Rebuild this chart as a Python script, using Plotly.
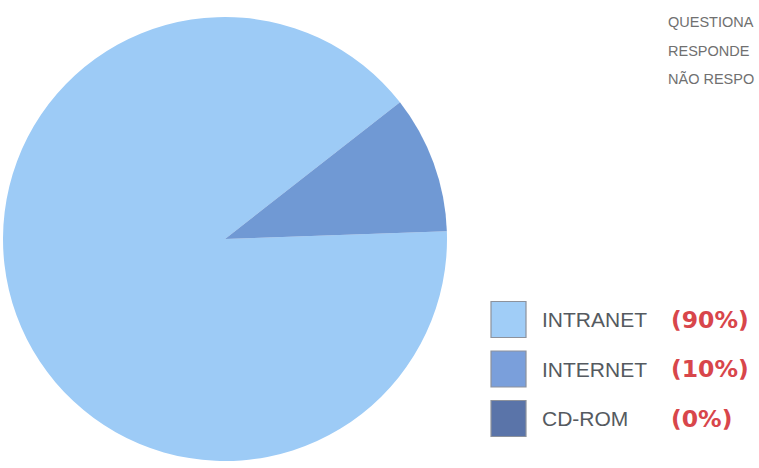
import plotly.graph_objects as go

# ---- data ----
categories = ["INTRANET", "INTERNET", "CD-ROM"]
shares = [90, 10, 0]
pct_labels = ["(90%)", "(10%)", "(0%)"]
slice_colors = ["#9dcbf6", "#7099d4", "#5a74a9"]
legend_colors = ["#a0cdf7", "#7a9fdb", "#5a74a9"]
header_lines = ["QUESTIONA", "RESPONDE", "NÃO RESPO"]

W, H = 759, 468

def px(x):
    return x / W

def py(y):
    return 1 - y / H

# pie geometry (pixels)
cx, cy, diam = 225, 239, 444

fig = go.Figure()
fig.add_trace(go.Pie(
    labels=categories,
    values=shares,
    sort=False,
    direction="clockwise",
    rotation=88,
    marker=dict(colors=slice_colors, line=dict(width=0)),
    textinfo="none",
    hoverinfo="label+percent",
    showlegend=False,
    domain=dict(x=[px(cx - diam / 2), px(cx + diam / 2)],
                y=[py(cy + diam / 2), py(cy - diam / 2)]),
))

annotations = []
shapes = []

# header text (top right)
for i, t in enumerate(header_lines):
    annotations.append(dict(
        x=px(666), y=py(22 + i * 28.5), xref="paper", yref="paper",
        xanchor="left", yanchor="middle", showarrow=False, text=t,
        font=dict(family="Liberation Sans, Arial, sans-serif", size=14.5, color="#707070"),
    ))

# custom legend
row0, step = 319.5, 49.5
for i, (lab, col, pct) in enumerate(zip(categories, legend_colors, pct_labels)):
    yc = row0 + i * step
    shapes.append(dict(
        type="rect", xref="paper", yref="paper",
        x0=px(491), x1=px(526), y0=py(yc + 18), y1=py(yc - 18),
        fillcolor=col, line=dict(color="#8d929c", width=1.2),
    ))
    annotations.append(dict(
        x=px(540), y=py(yc), xref="paper", yref="paper",
        xanchor="left", yanchor="middle", showarrow=False, text=lab,
        font=dict(family="Liberation Sans, Arial, sans-serif", size=21, color="#555a60"),
    ))
    annotations.append(dict(
        x=px(669), y=py(yc), xref="paper", yref="paper",
        xanchor="left", yanchor="middle", showarrow=False, text="<b>" + pct + "</b>",
        font=dict(family="DejaVu Sans, sans-serif", size=23.5, color="#d8464b"),
    ))

fig.update_layout(
    width=W, height=H,
    margin=dict(l=0, r=0, t=0, b=0),
    paper_bgcolor="white", plot_bgcolor="white",
    annotations=annotations, shapes=shapes,
)

fig.write_html("out.html", config={"displayModeBar": False},
               post_script="document.body.style.margin='0';")
